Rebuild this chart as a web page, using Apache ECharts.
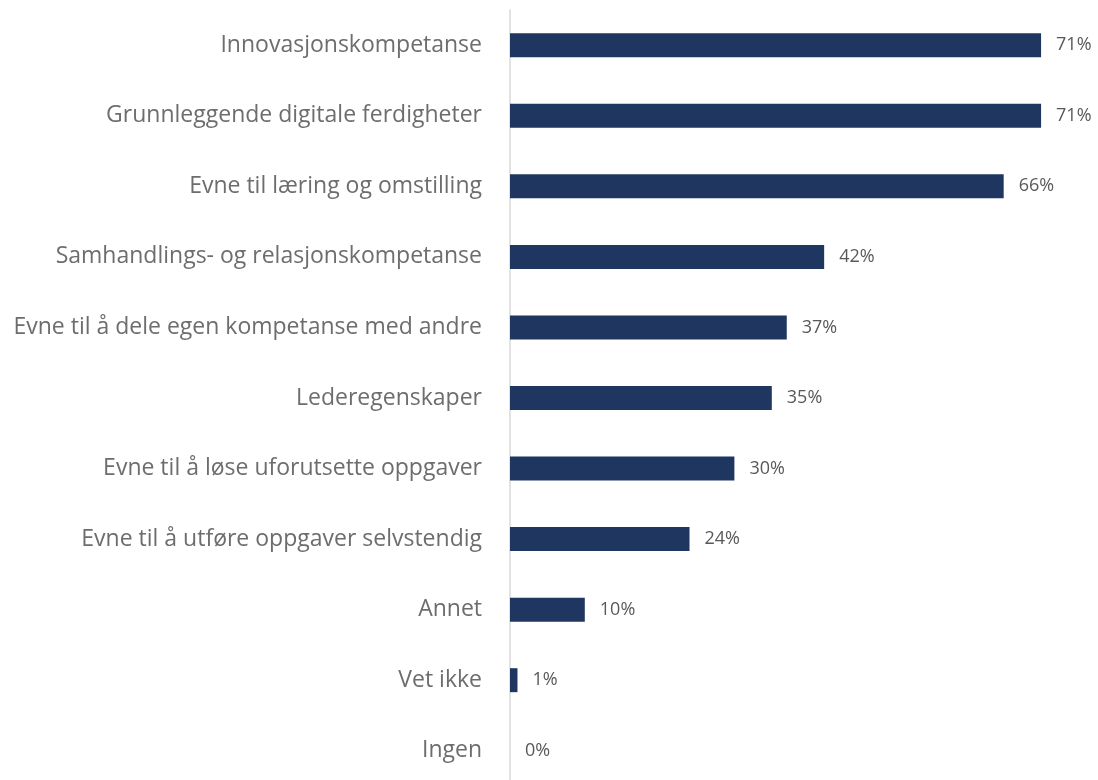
<!DOCTYPE html>
<html>
<head>
<meta charset="utf-8">
<script src="https://cdn.jsdelivr.net/npm/echarts@6/dist/echarts.min.js"></script>
<style>
  html, body { margin: 0; padding: 0; background: #fff; }
  #chart { width: 1098px; height: 780px; }
</style>
</head>
<body>
<div id="chart"></div>
<script>
// Categories, top to bottom
const categories = [
  'Innovasjonskompetanse',
  'Grunnleggende digitale ferdigheter',
  'Evne til læring og omstilling',
  'Samhandlings- og relasjonskompetanse',
  'Evne til å dele egen kompetanse med andre',
  'Lederegenskaper',
  'Evne til å løse uforutsette oppgaver',
  'Evne til å utføre oppgaver selvstendig',
  'Annet',
  'Vet ikke',
  'Ingen'
];
// Share of respondents, percent
const values = [71, 71, 66, 42, 37, 35, 30, 24, 10, 1, 0];

const chart = echarts.init(document.getElementById('chart'), null, { renderer: 'canvas' });
const font = '"Open Sans", sans-serif';

chart.setOption({
  animation: false,
  grid: {
    left: 510, width: 561, top: 10, height: 776,
    containLabel: false, outerBoundsMode: 'none'
  },
  xAxis: {
    type: 'value', min: 0, max: 75,
    show: false
  },
  yAxis: {
    type: 'category',
    inverse: true,
    data: categories.slice(),
    axisTick: { show: false },
    axisLine: { show: true, lineStyle: { color: '#d9d9d9', width: 1.5 } },
    axisLabel: {
      color: '#6d6d6d', fontSize: 23, fontFamily: font, margin: 28
    }
  },
  series: [{
    type: 'bar',
    data: values.slice(),
    barWidth: '34%',
    itemStyle: { color: '#1f3760' },
    label: {
      show: true, position: 'right', distance: 15,
      formatter: p => p.value + '%',
      color: '#595959', fontSize: 18, fontFamily: font
    }
  }]
});
</script>
</body>
</html>
